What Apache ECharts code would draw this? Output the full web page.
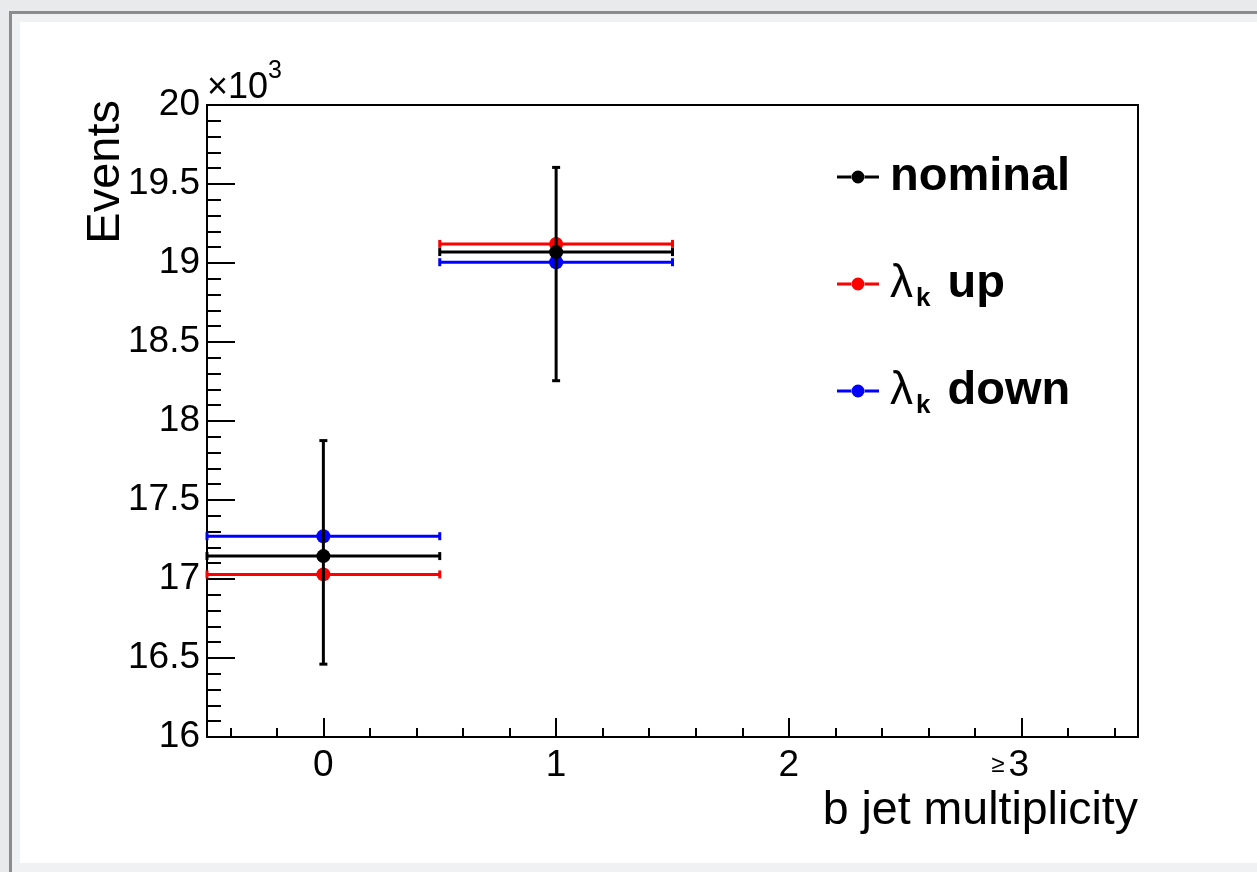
<!DOCTYPE html>
<html>
<head>
<meta charset="utf-8">
<script src="https://cdn.jsdelivr.net/npm/echarts@6/dist/echarts.min.js"></script>
<style>
  html, body { margin: 0; padding: 0; width: 1257px; height: 872px; overflow: hidden; background: #e9eaec; }
  #canvasFrame { position: absolute; left: 9px; top: 11px; right: 0; bottom: 0;
                 border-left: 3px solid #8c8c8c; border-top: 3px solid #8c8c8c; background: #f0f1f2; }
  #pad { position: absolute; left: 20px; top: 22px; width: 1237px; height: 841px; background: #ffffff; }
  #chart { position: absolute; left: 0; top: 0; width: 1257px; height: 872px; }
</style>
</head>
<body>
<div id="canvasFrame"></div>
<div id="pad"></div>
<div id="chart"></div>
<script>
const FONT = '"Liberation Sans", Arimo, Arial, Helvetica, sans-serif';

// b jet multiplicity bins that hold entries
const binCenters = [0, 1];
const binHalfWidth = 0.5;

// x axis labels
const xTickValues = [0, 1, 2, 3];
const xTickLabels = ['0', '1', '2', '≥3'];

// event yields per bin
const nominal = [17145, 19069];
const nominalErrLow = [16461, 18255];
const nominalErrHigh = [17876, 19605];
const lambdaUp = [17029, 19121];
const lambdaDown = [17271, 19005];

// minor ticks on the x axis every 0.2
const xMinorTicks = [];
for (let i = -2; i <= 17; i++) {
  if (i % 5 !== 0) xMinorTicks.push(+(i * 0.2).toFixed(1));
}

const legendText = {
  'nominal': 'nominal',
  'λk up': '{g|λ}{s|k} up',
  'λk down': '{g|λ}{s|k} down'
};

// legend sample: a short line with a dot in the middle
const legendIcon = 'path://M0,5.5 H15 V8.5 H0 Z M27,5.5 H42 V8.5 H27 Z ' +
  'M14.5,7 A6.5,6.5 0 1,0 27.5,7 A6.5,6.5 0 1,0 14.5,7 Z';

function makeRenderItem(color) {
  return function (params, api) {
    const x = api.value(0), y = api.value(1);
    const lo = api.value(2), hi = api.value(3);
    const c = api.coord([x, y]);
    const l = api.coord([x - binHalfWidth, y]);
    const r = api.coord([x + binHalfWidth, y]);
    const st = { stroke: color, lineWidth: 3 };
    const cap = 4;
    const children = [
      { type: 'line', shape: { x1: l[0], y1: l[1], x2: r[0], y2: r[1] }, style: st },
      { type: 'line', shape: { x1: l[0], y1: l[1] - cap, x2: l[0], y2: l[1] + cap }, style: st },
      { type: 'line', shape: { x1: r[0], y1: r[1] - cap, x2: r[0], y2: r[1] + cap }, style: st }
    ];
    if (isFinite(lo) && isFinite(hi)) {
      const b = api.coord([x, lo]);
      const t = api.coord([x, hi]);
      children.push(
        { type: 'line', shape: { x1: b[0], y1: b[1], x2: t[0], y2: t[1] }, style: st },
        { type: 'line', shape: { x1: b[0] - cap, y1: b[1], x2: b[0] + cap, y2: b[1] }, style: st },
        { type: 'line', shape: { x1: t[0] - cap, y1: t[1], x2: t[0] + cap, y2: t[1] }, style: st }
      );
    }
    children.push({ type: 'circle', shape: { cx: c[0], cy: c[1], r: 7 }, style: { fill: color } });
    return { type: 'group', children };
  };
}

function errorSeries(name, color, values, low, high) {
  return {
    type: 'custom',
    name: name,
    xAxisIndex: 0,
    yAxisIndex: 0,
    itemStyle: { color: color },
    renderItem: makeRenderItem(color),
    encode: { x: 0, y: 1 },
    data: binCenters.map((x, i) => low ? [x, values[i], low[i], high[i]] : [x, values[i]])
  };
}

const chart = echarts.init(document.getElementById('chart'), null, { renderer: 'canvas' });

const tickLine = { color: '#000', width: 2 };

chart.setOption({
  animation: false,
  backgroundColor: 'transparent',
  textStyle: { fontFamily: FONT },
  grid: {
    left: 207, top: 105, width: 931, height: 632,
    show: true, borderColor: '#000', borderWidth: 2, backgroundColor: 'transparent'
  },
  xAxis: [{
    type: 'value', min: -0.5, max: 3.5,
    axisLine: { show: true, onZero: false, lineStyle: tickLine },
    axisTick: { show: true, inside: true, length: 19, customValues: xTickValues, lineStyle: tickLine },
    axisLabel: {
      show: true, customValues: xTickValues, margin: 10,
      fontSize: 37, color: '#000', fontFamily: FONT,
      formatter: v => {
        const s = xTickLabels[xTickValues.indexOf(v)];
        return s.startsWith('≥') ? '{geq|≥}{n|' + s.slice(1) + '}' : s;
      },
      rich: {
        geq: { fontSize: 24, color: '#000', fontFamily: FONT, padding: [0, 4, 0, 0] },
        n: { fontSize: 37, color: '#000', fontFamily: FONT, padding: [0, 23, 0, 0] }
      }
    },
    splitLine: { show: false }
  }, {
    type: 'value', min: -0.5, max: 3.5, position: 'bottom', gridIndex: 0,
    axisLine: { show: false, onZero: false },
    axisTick: { show: true, inside: true, length: 9, customValues: xMinorTicks, lineStyle: tickLine },
    axisLabel: { show: false },
    splitLine: { show: false }
  }],
  yAxis: {
    type: 'value', min: 16000, max: 20000, interval: 500,
    axisLine: { show: true, onZero: false, lineStyle: tickLine },
    axisTick: { show: true, inside: true, length: 28, lineStyle: tickLine },
    minorTick: { show: true, splitNumber: 5, length: 14, lineStyle: tickLine },
    splitLine: { show: false },
    axisLabel: {
      margin: 7, fontSize: 37, color: '#000', fontFamily: FONT,
      formatter: v => String(v / 1000)
    }
  },
  legend: {
    orient: 'vertical', left: 832, top: 144,
    itemWidth: 42, itemHeight: 14, itemGap: 51,
    selectedMode: false,
    data: ['nominal', 'λk up', 'λk down'].map(n => ({ name: n, icon: legendIcon })),
    formatter: name => legendText[name],
    textStyle: {
      fontFamily: FONT, fontSize: 47, fontWeight: 'bold', color: '#000',
      lineHeight: 56, padding: [0, 0, 0, 6],
      rich: {
        g: { fontFamily: FONT, fontSize: 46, fontWeight: 'normal', color: '#000', lineHeight: 56 },
        s: { fontFamily: FONT, fontSize: 26, fontWeight: 'bold', color: '#000',
             lineHeight: 20, verticalAlign: 'bottom', padding: [0, 4, 0, 3] }
      }
    }
  },
  graphic: [
    { type: 'text', x: 207, y: 87.75,
      style: { text: '×10', font: '36px ' + FONT, fill: '#000', align: 'left', verticalAlign: 'middle' } },
    { type: 'text', x: 268, y: 71.6,
      style: { text: '3', font: '25px ' + FONT, fill: '#000', align: 'left', verticalAlign: 'middle' } },
    { type: 'text', x: 106.5, y: 100, rotation: Math.PI / 2,
      style: { text: 'Events', font: '47px ' + FONT, fill: '#000', align: 'right', verticalAlign: 'middle' } },
    { type: 'text', x: 1138, y: 811.5,
      style: { text: 'b jet multiplicity', font: '46.5px ' + FONT, fill: '#000', align: 'right', verticalAlign: 'middle' } }
  ],
  series: [
    errorSeries('λk up', '#ff0000', lambdaUp),
    errorSeries('λk down', '#0000ff', lambdaDown),
    errorSeries('nominal', '#000000', nominal, nominalErrLow, nominalErrHigh)
  ]
});
</script>
</body>
</html>
